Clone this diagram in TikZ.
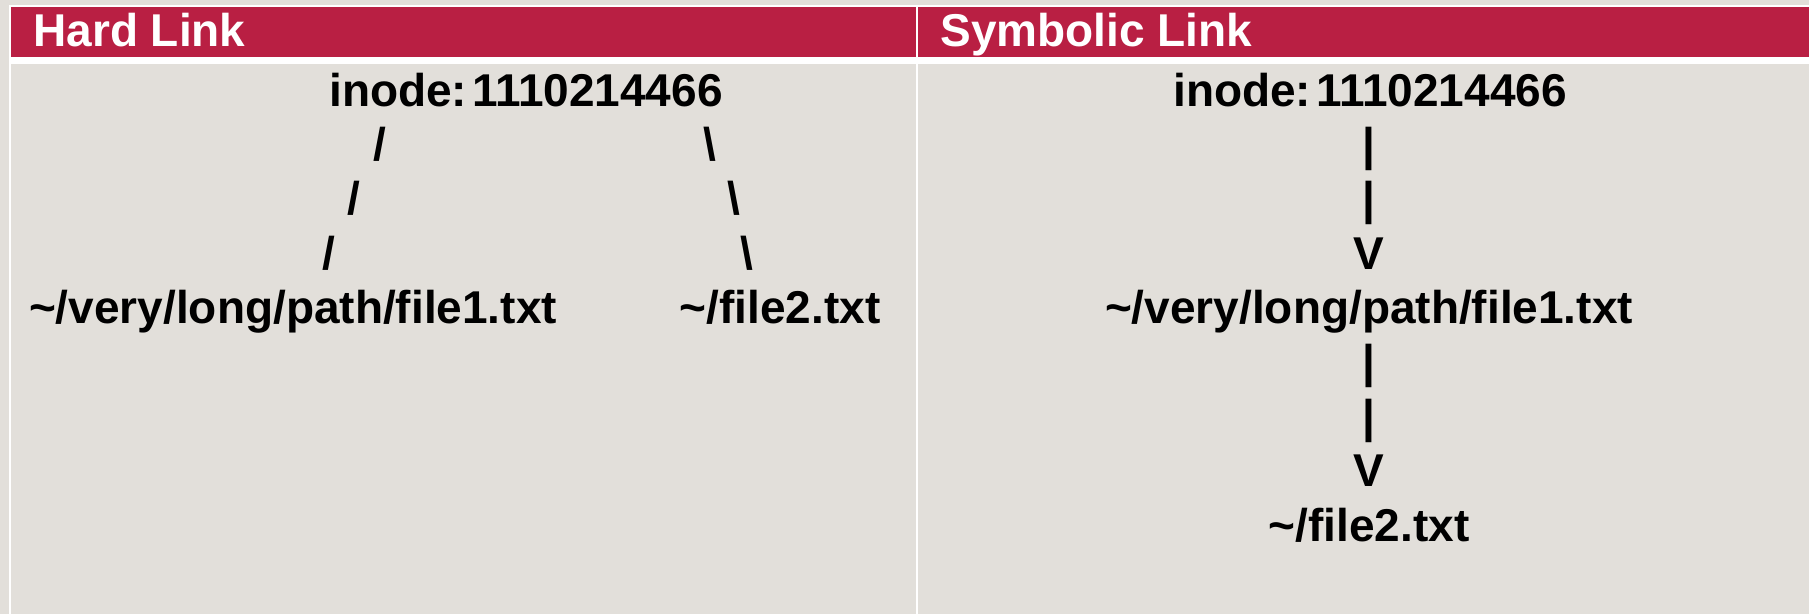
\documentclass[tikz,border=0pt]{standalone}
\usepackage{fontspec}
\setmainfont{Liberation Sans}
\definecolor{bg}{RGB}{226,223,218}
\definecolor{hdr}{RGB}{185,31,67}
\begin{document}
\begin{tikzpicture}[x=0.5pt,y=-0.5pt,
  txt/.style={inner sep=0pt,anchor=base,font=\fontsize{23pt}{26pt}\selectfont\bfseries,text=black},
  head/.style={inner sep=0pt,anchor=base west,font=\fontsize{23pt}{26pt}\selectfont\bfseries,text=white},
  rule/.style={draw=white,line width=1pt}]
\useasboundingbox (0,0) rectangle (1809,614);
\fill[bg] (0,0) rectangle (1809,614);
% table
\fill[hdr] (10,7) rectangle (1809,57);
\fill[white] (10,57) rectangle (1809,64);
\draw[rule] (1809,6) -- (10,6) -- (10,614);
\draw[rule] (917,6) -- (917,614);
% headers
\node[head] (hl) at (33,47) {Hard Link};
\node[head] (sl) at (940,47) {Symbolic Link};
% left panel
\node[txt] (in1) at (526,107) {inode:\hspace{2.4pt}1110214466};
\node[txt] (s1a) at (380,161) {/};
\node[txt] (s1b) at (354,215) {/};
\node[txt] (s1c) at (329,270) {/};
\node[txt] (b1a) at (710,161) {\textbackslash};
\node[txt] (b1b) at (734,215) {\textbackslash};
\node[txt] (b1c) at (747,270) {\textbackslash};
\node[txt] (f1L) at (293,324) {\textasciitilde/very/long/path/file1.txt};
\node[txt] (f2L) at (780,324) {\textasciitilde/file2.txt};
% right panel
\node[txt] (in2) at (1370,107) {inode:\hspace{2.4pt}1110214466};
\node[txt] (p1) at (1369,161) {\textbar};
\node[txt] (p2) at (1369,215) {\textbar};
\node[txt] (v1) at (1369,270) {V};
\node[txt] (f1R) at (1369,324) {\textasciitilde/very/long/path/file1.txt};
\node[txt] (p3) at (1369,378) {\textbar};
\node[txt] (p4) at (1369,432) {\textbar};
\node[txt] (v2) at (1369,487) {V};
\node[txt] (f2R) at (1369,541) {\textasciitilde/file2.txt};
\end{tikzpicture}
\end{document}
